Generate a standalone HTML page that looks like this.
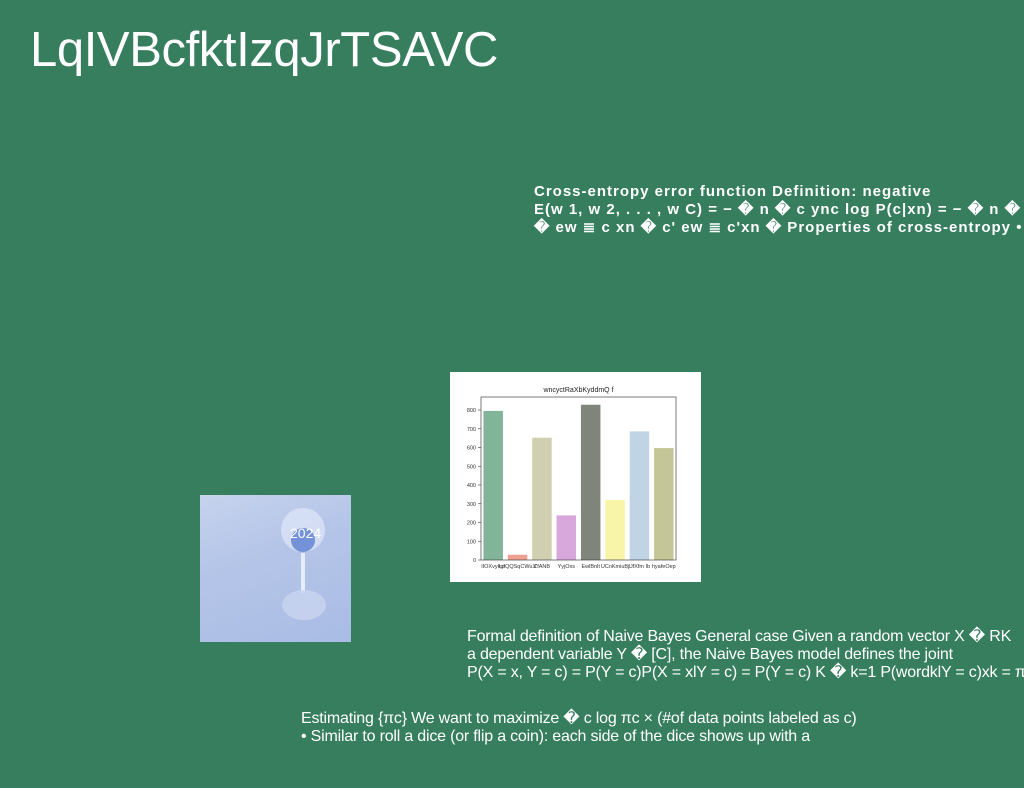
<!DOCTYPE html>
<html><head><meta charset="utf-8">
<style>
html,body{margin:0;padding:0;}
body{width:1024px;height:788px;background:#367e5e;position:relative;overflow:hidden;font-family:"Liberation Sans",sans-serif;color:#fff;}
.title{position:absolute;left:30px;top:22px;font-size:49px;letter-spacing:-0.4px;white-space:nowrap;}
.def{position:absolute;left:534px;top:183px;font-size:15px;font-weight:bold;line-height:18px;white-space:nowrap;letter-spacing:1px;}
.para{position:absolute;font-size:16px;line-height:18px;white-space:nowrap;letter-spacing:-0.2px;}
.photo{position:absolute;left:200px;top:495px;width:151px;height:147px;background:linear-gradient(160deg,#c6d3ee 0%,#b5c5e8 40%,#a9bce4 100%);overflow:hidden;}
.chart{position:absolute;left:450px;top:372px;width:251px;height:210px;background:#fff;}
</style></head><body>
<div class="title">LqIVBcfktIzqJrTSAVC</div>
<div class="def">Cross-entropy error function Definition: negative<br>E(w 1, w 2, . . . , w C) = − � n � c ync log P(c|xn) = − � n � c ync<br>� ew ≣ c xn � c' ew ≣ c'xn � Properties of cross-entropy •</div>
<div class="photo">
<svg width="151" height="147">
<circle cx="103" cy="35" r="22" fill="#dfe7f8" opacity="0.7"/>
<circle cx="103" cy="45" r="12" fill="#5b7fd0" opacity="0.8"/>
<text x="90" y="43" font-size="14" fill="#fff" font-family="Liberation Sans">2024</text>
<rect x="101" y="58" width="4" height="40" fill="#e5ecfa"/>
<ellipse cx="104" cy="110" rx="22" ry="15" fill="#c9d5f0" opacity="0.8"/>
</svg></div>
<div class="chart"><svg id="svg" width="251" height="210"></svg></div>
<div class="para" style="left:467px;top:628px;">Formal definition of Naive Bayes General case Given a random vector X � RK<br>a dependent variable Y � [C], the Naive Bayes model defines the joint<br>P(X = x, Y = c) = P(Y = c)P(X = xlY = c) = P(Y = c) K � k=1 P(wordklY = c)xk = πc</div>
<div class="para" style="left:301px;top:710px;">Estimating {πc} We want to maximize � c log πc × (#of data points labeled as c)<br>• Similar to roll a dice (or flip a coin): each side of the dice shows up with a</div>
<script>
const categories=["lIOXvykpf","LpQQSqCWuX","ZfANB","YyjOxs","EwlBnlt","UCnKmiuBj","lJfXfm Ib","hyafeOep"];
const values=[795,28,652,238,828,320,686,597];
const colors=["#82b49a","#f0a090","#d0cfb0","#d8a8dc","#80857c","#f8f5a8","#c0d4e6","#c4c698"];
const ticks=[0,100,200,300,400,500,600,700,800];
const chartTitle="wncyctRaXbKyddmQ f";
const svg=document.getElementById('svg');const NS="http://www.w3.org/2000/svg";
const L=31,R=226,T=25,B=188;
const y=v=>B-v*(150/800);
const slot=(R-L)/categories.length;
const x=i=>L+slot*(i+0.5);
function mk(t,a){const e=document.createElementNS(NS,t);for(const k in a)e.setAttribute(k,a[k]);svg.appendChild(e);return e;}
let t=mk('text',{x:(L+R)/2,y:20,'font-size':7,'text-anchor':'middle',fill:'#222','font-family':'Liberation Sans'});t.textContent=chartTitle;


ticks.forEach(v=>{
 const l=mk('line',{x1:L-3,x2:L,y1:y(v),y2:y(v),stroke:'#333','stroke-width':0.6});
 const tx=mk('text',{x:L-5,y:y(v)+2,'font-size':5.5,'text-anchor':'end',fill:'#333','font-family':'Liberation Sans'});tx.textContent=v;
 
 
});
values.forEach((v,i)=>{
 const w=slot*0.8;
 const r=mk('rect',{x:x(i)-w/2,y:y(v),width:w,height:B-y(v),fill:colors[i]});
 
 
 const tx=mk('text',{x:x(i),y:B+8,'font-size':5.5,'text-anchor':'middle',fill:'#333','font-family':'Liberation Sans'});tx.textContent=categories[i];
 
 
});
mk('rect',{x:L,y:T,width:R-L,height:B-T,fill:'none',stroke:'#444','stroke-width':0.7});
</script>
</body></html>
